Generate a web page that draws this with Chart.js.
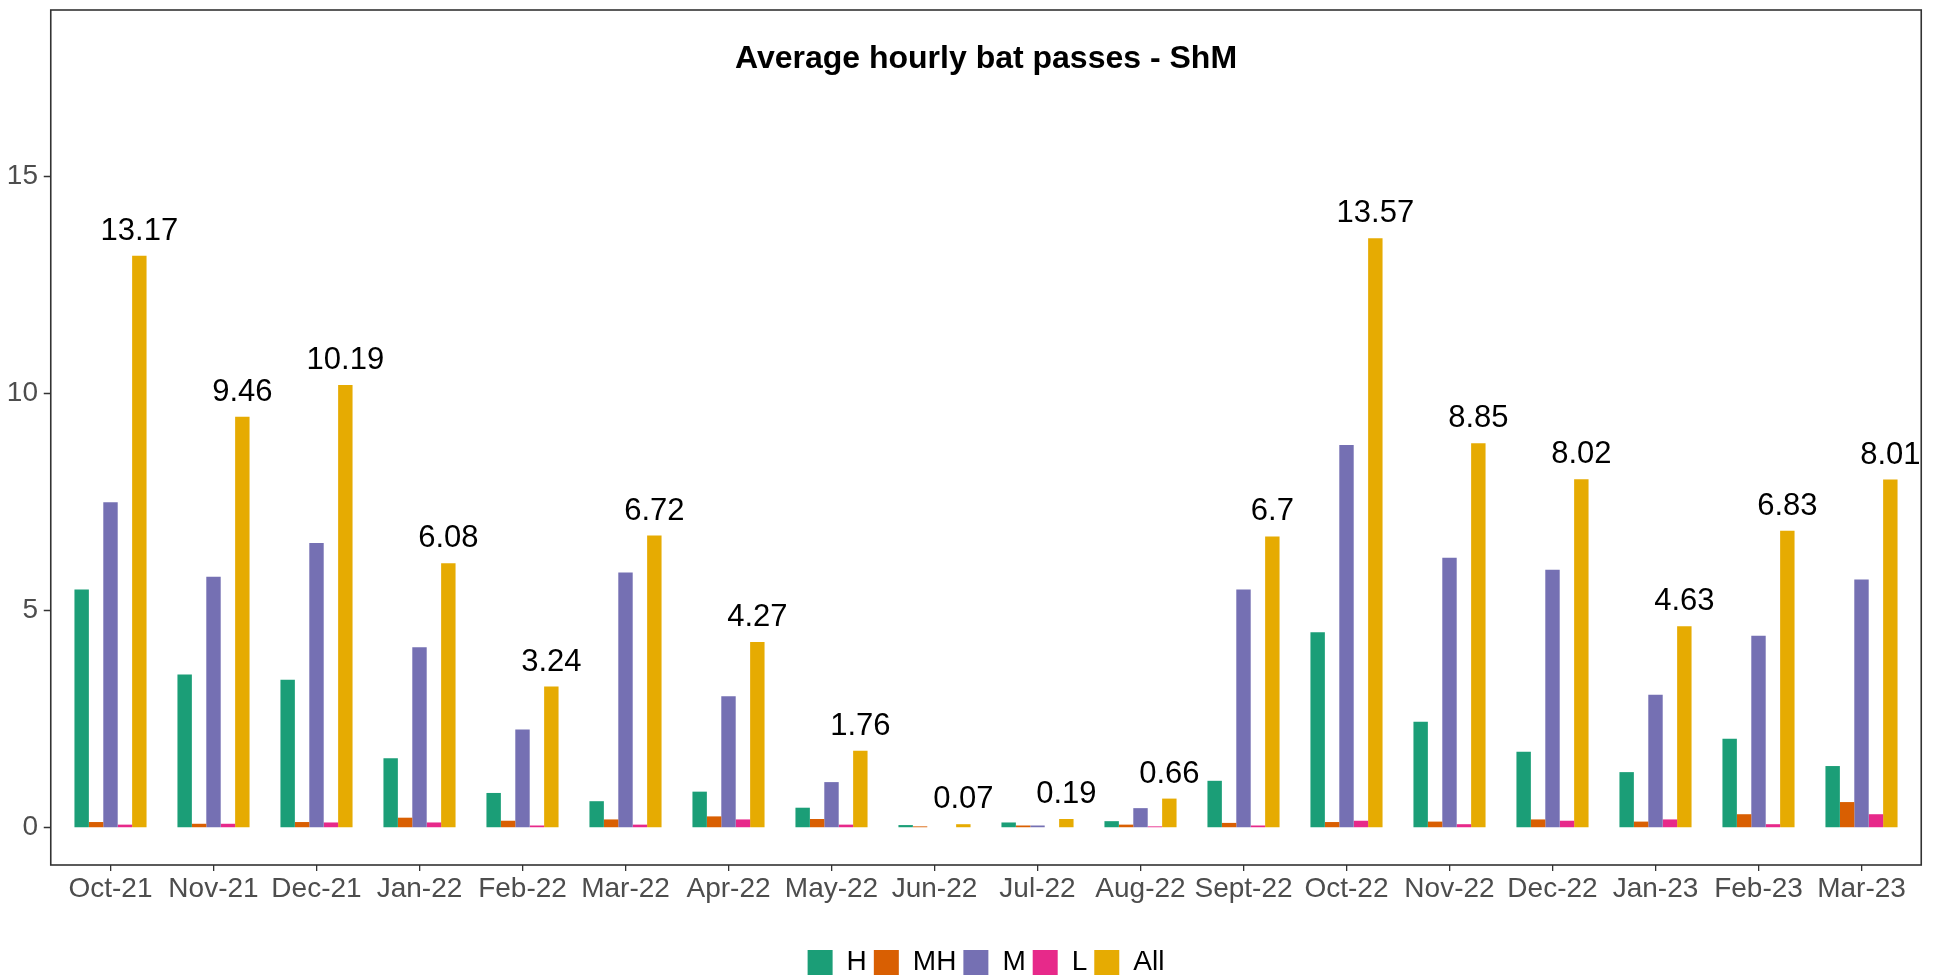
<!DOCTYPE html>
<html>
<head>
<meta charset="utf-8">
<title>Average hourly bat passes - ShM</title>
<script src="https://cdn.jsdelivr.net/npm/chart.js@4.4.1/dist/chart.umd.min.js"></script>
<style>
  html, body { margin: 0; padding: 0; background: #ffffff; }
  #wrap { width: 1937px; height: 980px; position: relative; }
</style>
</head>
<body>
<div id="wrap"><canvas id="batChart"></canvas></div>
<script>
// categories
const months = ['Oct-21', 'Nov-21', 'Dec-21', 'Jan-22', 'Feb-22', 'Mar-22', 'Apr-22', 'May-22', 'Jun-22',
  'Jul-22', 'Aug-22', 'Sept-22', 'Oct-22', 'Nov-22', 'Dec-22', 'Jan-23', 'Feb-23', 'Mar-23'];

// average hourly passes per group
const hValues   = [5.48, 3.52, 3.40, 1.59, 0.79, 0.60, 0.82, 0.45, 0.05, 0.11, 0.14, 1.07, 4.49, 2.43, 1.74, 1.27, 2.04, 1.41];
const mhValues  = [0.12, 0.08, 0.12, 0.22, 0.15, 0.18, 0.25, 0.19, 0.02, 0.04, 0.06, 0.10, 0.12, 0.13, 0.18, 0.13, 0.30, 0.58];
const mValues   = [7.49, 5.77, 6.55, 4.15, 2.25, 5.87, 3.02, 1.04, 0.00, 0.04, 0.44, 5.48, 8.81, 6.21, 5.93, 3.05, 4.41, 5.71];
const lValues   = [0.06, 0.08, 0.11, 0.11, 0.04, 0.06, 0.18, 0.06, 0.00, 0.00, 0.02, 0.04, 0.15, 0.07, 0.15, 0.18, 0.07, 0.30];
const allValues = [13.17, 9.46, 10.19, 6.08, 3.24, 6.72, 4.27, 1.76, 0.07, 0.19, 0.66, 6.7, 13.57, 8.85, 8.02, 4.63, 6.83, 8.01];

const seriesNames = ['H', 'MH', 'M', 'L', 'All'];
const yTicks = [0, 5, 10, 15];
const yRange = [-0.87, 18.83];

const palette = ['#1B9E77', '#D95F02', '#7570B3', '#E7298A', '#E6AB02'];
const fontFamily = "'Liberation Sans', Arial, Helvetica, sans-serif";

// ggplot pads a discrete axis by ~0.58 of a category each side, chart.js by 0.5
const extraPad = 0.08;

function panelBox(chart) {
  const a = chart.chartArea;
  const step = (a.right - a.left) / months.length;
  return { left: a.left - step * extraPad, right: a.right + step * extraPad, top: a.top, bottom: a.bottom };
}

// border round the panel + y tick marks on it
const panelFrame = {
  id: 'panelFrame',
  afterDraw(chart) {
    const { ctx } = chart;
    const p = panelBox(chart);
    const y = chart.scales.y;
    ctx.save();
    ctx.strokeStyle = '#333333';
    ctx.lineWidth = 1.6;
    ctx.strokeRect(p.left, p.top, p.right - p.left, p.bottom - p.top);
    ctx.lineWidth = 1.3;
    ctx.beginPath();
    yTicks.forEach(v => {
      const py = Math.round(y.getPixelForValue(v)) + 0.5;
      ctx.moveTo(p.left - 7, py);
      ctx.lineTo(p.left, py);
    });
    ctx.stroke();
    ctx.restore();
  }
};

// title sits inside the panel
const panelTitle = {
  id: 'panelTitle',
  afterDraw(chart) {
    const { ctx } = chart;
    const p = panelBox(chart);
    ctx.save();
    ctx.fillStyle = '#000000';
    ctx.font = 'bold 32px ' + fontFamily;
    ctx.textAlign = 'center';
    ctx.textBaseline = 'alphabetic';
    ctx.fillText('Average hourly bat passes - ShM', (p.left + p.right) / 2, p.top + 58);
    ctx.restore();
  }
};

// value labels over the "All" bars
const allLabels = {
  id: 'allLabels',
  afterDatasetsDraw(chart) {
    const { ctx } = chart;
    const meta = chart.getDatasetMeta(4);
    ctx.save();
    ctx.fillStyle = '#000000';
    ctx.font = '31px ' + fontFamily;
    ctx.textAlign = 'center';
    ctx.textBaseline = 'alphabetic';
    meta.data.forEach((bar, i) => {
      ctx.fillText(String(allValues[i]), bar.x, bar.y - 16);
    });
    ctx.restore();
  }
};

const seriesData = [hValues, mhValues, mValues, lValues, allValues];

new Chart(document.getElementById('batChart'), {
  type: 'bar',
  data: {
    labels: months,
    datasets: seriesNames.map((name, i) => ({
      label: name,
      data: seriesData[i],
      backgroundColor: palette[i],
      borderWidth: 0,
      categoryPercentage: 0.7,
      barPercentage: 1.0
    }))
  },
  options: {
    responsive: true,
    maintainAspectRatio: false,
    animation: false,
    layout: {
      padding: { top: 10, right: 24, left: 0, bottom: -6.5 }
    },
    plugins: {
      tooltip: { enabled: false },
      legend: {
        position: 'bottom',
        fullSize: false,
        labels: {
          boxWidth: 25,
          boxHeight: 25,
          padding: 7,
          color: '#000000',
          font: { family: fontFamily, size: 28 }
        }
      }
    },
    scales: {
      x: {
        offset: true,
        grid: {
          offset: false,
          drawOnChartArea: false,
          drawTicks: true,
          tickLength: 6,
          color: '#333333',
          lineWidth: 1.3
        },
        border: { display: false },
        ticks: {
          autoSkip: false,
          maxRotation: 0,
          minRotation: 0,
          padding: 1,
          color: '#4D4D4D',
          font: { family: fontFamily, size: 28 }
        },
        afterFit(scale) {
          scale.height = 76.5;
          scale.paddingLeft = 0;
          scale.paddingRight = 0;
        }
      },
      y: {
        min: yRange[0],
        max: yRange[1],
        grid: {
          display: false,
          drawTicks: true,
          tickLength: 16
        },
        border: { display: false },
        ticks: {
          padding: 5,
          color: '#4D4D4D',
          font: { family: fontFamily, size: 28 }
        },
        afterBuildTicks(scale) {
          scale.ticks = yTicks.map(v => ({ value: v }));
        },
        afterFit(scale) {
          scale.width = 59;
          scale.paddingTop = 0;
          scale.paddingBottom = 0;
        }
      }
    }
  },
  plugins: [panelFrame, panelTitle, allLabels]
});
</script>
</body>
</html>
